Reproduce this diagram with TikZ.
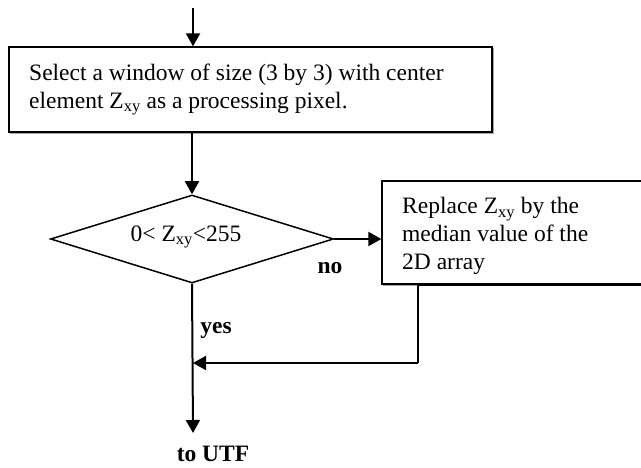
\documentclass[tikz,border=0pt]{standalone}
\usepackage{fontspec}
\setmainfont{Liberation Serif}
\usetikzlibrary{shapes.geometric,arrows.meta}
\tikzset{
  boxstyle/.style={draw=black, line width=1.3pt, fill=white, rectangle, inner sep=0pt,
    preaction={draw=gray!70, line width=1pt, transform canvas={shift={(1.8pt,-1.8pt)}}}},
  condstyle/.style={draw=black, line width=1.5pt, diamond, inner sep=0pt, minimum width=283pt, minimum height=88pt},
  txt/.style={font=\fontsize{23.5}{28}\selectfont, inner sep=0pt},
  lbl/.style={font=\fontsize{23.5}{28}\selectfont\bfseries, inner sep=0pt},
  arr/.style={line width=2pt, -{Triangle[length=13pt,width=14pt]}},
  conn/.style={line width=2pt}
}
\begin{document}
\begin{tikzpicture}[x=1pt,y=-1pt]
\useasboundingbox (0,0) rectangle (641,468);
% boxes
\node[boxstyle, minimum width=483pt, minimum height=85pt] (box1) at (250.5,89.5) {};
\node[txt, anchor=west, align=left] (box1text) at (29,89.5) {Select a window of size (3 by 3) with center\\element Z\textsubscript{xy} as a processing pixel.};
\node[condstyle] (cond) at (192,239) {};
\node[txt] (condtext) at (186,237) {0< Z\textsubscript{xy}<255};
\node[boxstyle, minimum width=278pt, minimum height=103pt] (box2) at (521,232.5) {};
\node[txt, anchor=west, align=left] (box2text) at (402,236) {Replace Z\textsubscript{xy} by the\\median value of the\\2D array};
% labels
\node[lbl] (no) at (330,268) {no};
\node[lbl] (yes) at (216,330) {yes};
\node[lbl] (toutf) at (213,454) {to UTF};
% coordinates
\coordinate (start) at (193,8);
\coordinate (out) at (193,433);
\coordinate (fb) at (418,363);
\coordinate (merge) at (193,363);
% connectors
\draw[arr] (start) -- (start |- box1.north);
\draw[arr] (cond.north |- box1.south) -- (cond.north);
\draw[arr] (cond.east) -- (cond.east -| box2.west);
\draw[arr] (cond.south) -- (out);
\draw[conn] (box2.south east) -| (fb);
\draw[arr] (fb) -- (merge);
\end{tikzpicture}
\end{document}
